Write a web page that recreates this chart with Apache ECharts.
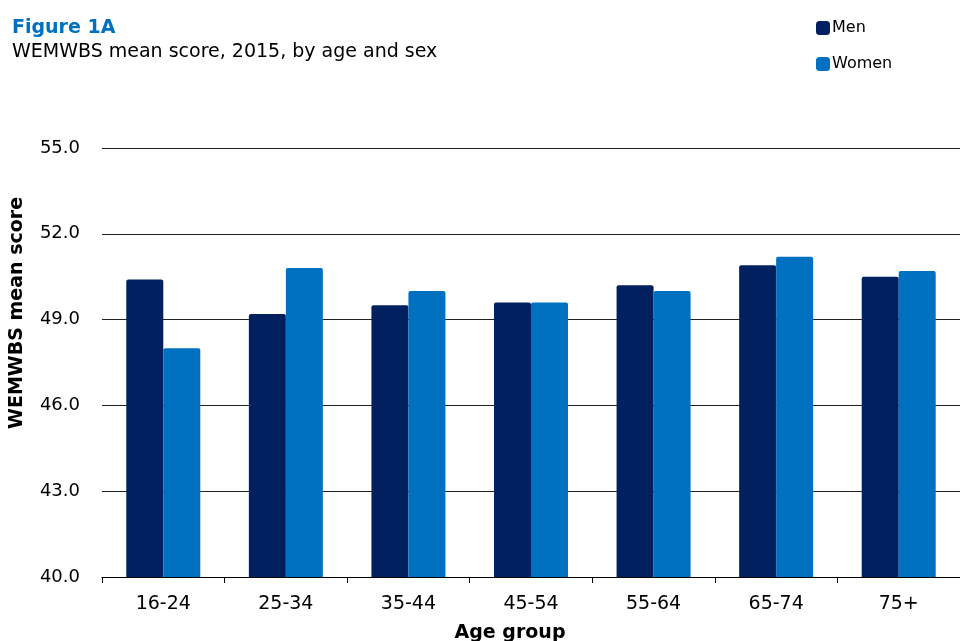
<!DOCTYPE html>
<html>
<head>
<meta charset="utf-8">
<script src="https://cdn.jsdelivr.net/npm/echarts@6/dist/echarts.min.js"></script>
<style>
  html, body { margin: 0; padding: 0; background: #fff; }
  #chart { width: 960px; height: 641px; }
</style>
</head>
<body>
<div id="chart"></div>
<script>
// Age groups along the category axis
const ageGroups = ['16-24', '25-34', '35-44', '45-54', '55-64', '65-74', '75+'];
// WEMWBS mean scores, 2015
const menScores = [50.4, 49.2, 49.5, 49.6, 50.2, 50.9, 50.5];
const womenScores = [48.0, 50.8, 50.0, 49.6, 50.0, 51.2, 50.7];
const seriesNames = ['Men', 'Women'];

const FONT = 'DejaVu Sans';
const chart = echarts.init(document.getElementById('chart'), null, { renderer: 'canvas' });

chart.setOption({
  animation: false,
  backgroundColor: '#ffffff',
  textStyle: { fontFamily: FONT },
  title: {
    text: 'Figure 1A',
    subtext: 'WEMWBS mean score, 2015, by age and sex',
    left: 7,
    top: 14,
    itemGap: 5,
    textStyle: { fontFamily: FONT, fontSize: 19, fontWeight: 'bold', color: '#0070C0' },
    subtextStyle: { fontFamily: FONT, fontSize: 19, color: '#000000' }
  },
  legend: {
    orient: 'vertical',
    left: 811,
    top: 15,
    itemWidth: 14,
    itemHeight: 14,
    itemGap: 20,
    icon: 'roundRect',
    data: seriesNames,
    textStyle: { fontFamily: FONT, fontSize: 16, color: '#000', padding: [0, 0, 0, -3] }
  },
  grid: { left: 102, top: 148, width: 863, height: 429, containLabel: false },
  xAxis: {
    type: 'category',
    data: ageGroups,
    axisLine: { lineStyle: { color: '#000', width: 1 } },
    axisTick: { show: true, length: 6, lineStyle: { color: '#000' } },
    axisLabel: { fontFamily: FONT, fontSize: 19, color: '#000', margin: 18 }
  },
  yAxis: {
    type: 'value',
    min: 40,
    max: 55,
    interval: 3,
    axisLine: { show: false },
    axisTick: { show: false },
    splitLine: { lineStyle: { color: '#222', width: 1 } },
    axisLabel: {
      fontFamily: FONT, fontSize: 18, color: '#000', margin: 22,
      formatter: v => v.toFixed(1)
    }
  },
  graphic: [
    {
      type: 'text',
      x: 17, y: 313,
      rotation: Math.PI / 2,
      style: {
        text: 'WEMWBS mean score',
        font: 'bold 19px "DejaVu Sans"',
        fill: '#000',
        textAlign: 'center',
        textVerticalAlign: 'middle'
      }
    },
    {
      type: 'text',
      x: 510, y: 633,
      style: {
        text: 'Age group',
        font: 'bold 19px "DejaVu Sans"',
        fill: '#000',
        textAlign: 'center',
        textVerticalAlign: 'middle'
      }
    }
  ],
  series: [
    {
      name: seriesNames[0],
      type: 'bar',
      data: menScores,
      barWidth: 37,
      barGap: '0%',
      itemStyle: { color: '#002060', borderRadius: [2, 2, 0, 0] }
    },
    {
      name: seriesNames[1],
      type: 'bar',
      data: womenScores,
      barWidth: 37,
      barGap: '0%',
      itemStyle: { color: '#0070C0', borderRadius: [2, 2, 0, 0] }
    }
  ]
});
</script>
</body>
</html>
